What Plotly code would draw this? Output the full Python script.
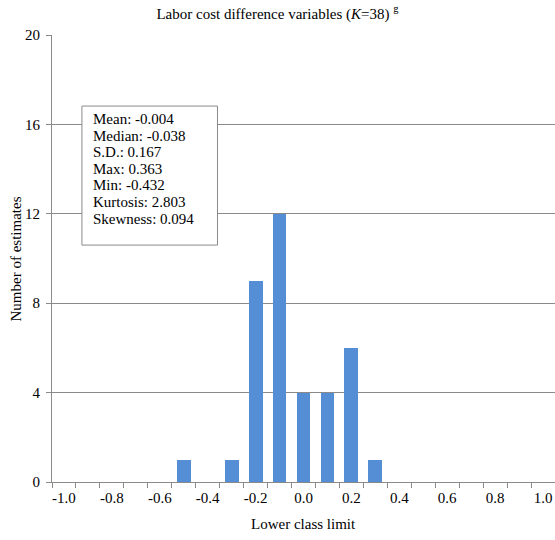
import plotly.graph_objects as go

# Histogram classes (lower class limits) and number of estimates in each class
class_limits = [-1.0, -0.9, -0.8, -0.7, -0.6, -0.5, -0.4, -0.3, -0.2, -0.1,
                0.0, 0.1, 0.2, 0.3, 0.4, 0.5, 0.6, 0.7, 0.8, 0.9, 1.0]
counts = [0, 0, 0, 0, 0, 1, 0, 1, 9, 12, 4, 4, 6, 1, 0, 0, 0, 0, 0, 0, 0]

tick_values = [-1.0, -0.8, -0.6, -0.4, -0.2, 0.0, 0.2, 0.4, 0.6, 0.8, 1.0]
tick_labels = ["-1.0", "-0.8", "-0.6", "-0.4", "-0.2", "0.0", "0.2", "0.4", "0.6", "0.8", "1.0"]
y_ticks = [0, 4, 8, 12, 16, 20]

# Summary statistics shown in the inset box
stat_names = ["Mean", "Median", "S.D.", "Max", "Min", "Kurtosis", "Skewness"]
stat_values = ["-0.004", "-0.038", "0.167", "0.363", "-0.432", "2.803", "0.094"]

SERIF = "Liberation Serif"
GREY = "#8a8a8a"
FS = 15

fig = go.Figure()
fig.add_trace(go.Bar(
    x=class_limits, y=counts, width=0.058,
    marker=dict(color="#558ED5", line=dict(width=0)),
    showlegend=False, hoverinfo="x+y",
))

fig.update_layout(
    width=555, height=540,
    margin=dict(l=52, r=0, t=35, b=58),
    paper_bgcolor="white", plot_bgcolor="white",
    font=dict(family=SERIF, size=FS, color="black"),
    title=dict(
        text="Labor cost difference variables (<i>K</i>=38) <sup>g</sup>",
        x=0.5, xanchor="center", y=0.985, yanchor="top",
        font=dict(family=SERIF, size=FS, color="black"),
    ),
    bargap=0,
)

fig.update_xaxes(
    range=[-1.05, 1.05],
    tickmode="array", tickvals=tick_values, ticktext=tick_labels,
    ticks="", showgrid=False, zeroline=False,
    showline=True, linecolor=GREY, linewidth=1,
    tickfont=dict(family=SERIF, size=FS),
    ticklabelstandoff=2,
    minor=dict(ticks="outside", ticklen=5, tickcolor=GREY, tick0=-1.05, dtick=0.1,
               showgrid=False),
)
fig.update_yaxes(
    range=[0, 20], tickmode="array", tickvals=y_ticks,
    ticks="outside", ticklen=5, tickcolor=GREY,
    showgrid=True, gridcolor=GREY, gridwidth=1, zeroline=False,
    showline=True, linecolor=GREY, linewidth=1,
    tickfont=dict(family=SERIF, size=FS),
    ticklabelstandoff=3,
)

# Axis titles
fig.add_annotation(xref="paper", yref="paper", x=0.5, y=-0.094,
                   xanchor="center", yanchor="middle", showarrow=False,
                   text="Lower class limit", font=dict(family=SERIF, size=FS))
fig.add_annotation(xref="paper", yref="paper", x=-0.0716, y=0.5,
                   xanchor="center", yanchor="middle", showarrow=False, textangle=-90,
                   text="Number of estimates", font=dict(family=SERIF, size=FS))

# Inset box with summary statistics
fig.add_shape(type="rect", xref="paper", yref="paper",
              x0=0.0595, x1=0.329, y0=0.530, y1=0.841,
              line=dict(color=GREY, width=1), fillcolor="white", layer="above")
line_top = 0.812
line_step = 0.0371
for i, (name, val) in enumerate(zip(stat_names, stat_values)):
    fig.add_annotation(
        xref="paper", yref="paper", x=0.077, y=line_top - i * line_step,
        xanchor="left", yanchor="middle", showarrow=False,
        text=f"{name}: {val}", font=dict(family=SERIF, size=FS, color="black"),
    )

fig.write_html("out.html")
